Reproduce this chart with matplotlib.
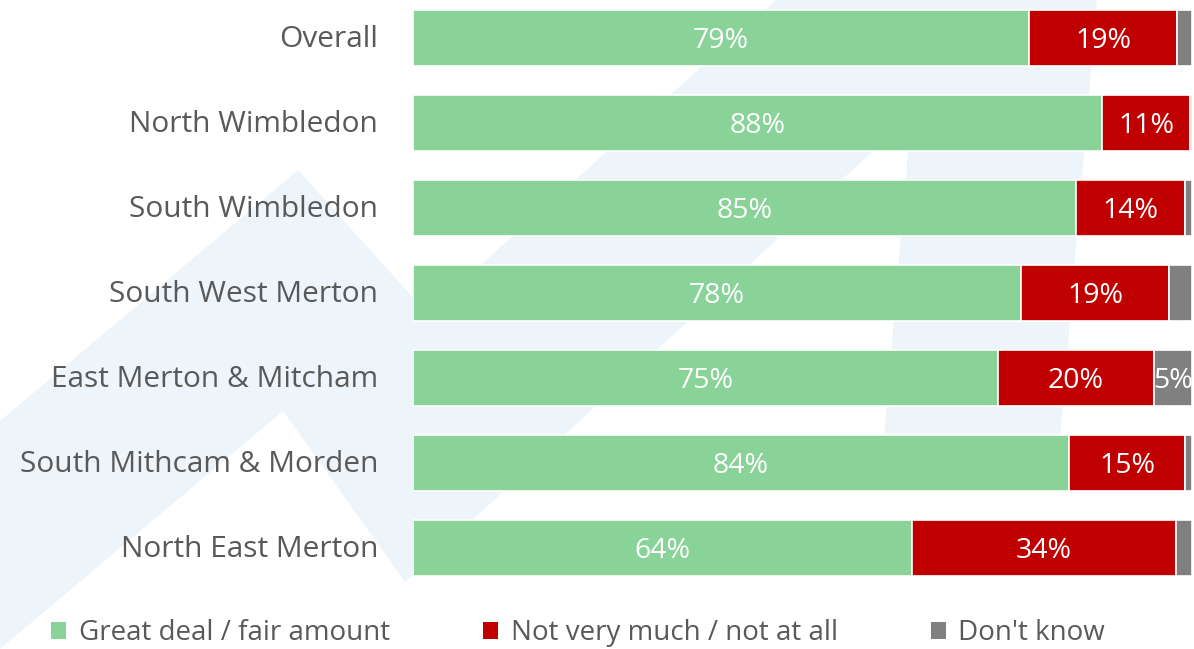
import matplotlib
matplotlib.use("Agg")
import matplotlib.pyplot as plt
from matplotlib.patches import Polygon, Patch
from matplotlib.transforms import ScaledTranslation

categories = ["Overall", "North Wimbledon", "South Wimbledon", "South West Merton",
              "East Merton & Mitcham", "South Mithcam & Morden", "North East Merton"]
great = [79.1, 88.4, 85.1, 78.0, 75.1, 84.2, 64.0]
not_much = [19.0, 11.4, 14.0, 19.1, 20.0, 14.9, 34.0]
dont_know = [1.9, 0.2, 0.9, 2.9, 4.9, 0.9, 2.0]
series_names = ["Great deal / fair amount", "Not very much / not at all", "Don't know"]
colors = ["#89D399", "#C00000", "#808080"]

W, H = 1194, 649
FONT = "Open Sans"
TXT = "#595959"

fig = plt.figure(figsize=(W / 100, H / 100), dpi=100)

# faint background watermark (decorative), in its own background axes
bg = fig.add_axes([0, 0, 1, 1], zorder=-5)
bg.set_xlim(0, W)
bg.set_ylim(H, 0)
bg.axis("off")
wm = [(0, 649), (0, 421), (298, 170), (427, 313), (776, 0), (1097, 0),
      (1058, 462), (882, 462), (911, 116), (405, 582), (283, 411)]
bg.add_patch(Polygon(wm, closed=True, facecolor="#EEF5FA", edgecolor="none"))

ax = fig.add_axes([413 / W, 1 - 590 / H, (1192 - 413) / W, 590 / H], zorder=1)
ax.set_facecolor("none")
y = list(range(len(categories)))
h = 0.66
left = [0] * len(categories)
down = ScaledTranslation(0, -0.03, fig.dpi_scale_trans)
for vals, col in zip([great, not_much, dont_know], colors):
    bars = ax.barh(y, vals, left=left, height=h, color=col, edgecolor="white", linewidth=1.2)
    for b, v, l in zip(bars, vals, left):
        if v >= 4:
            ax.text(l + v / 2, b.get_y() + b.get_height() / 2, f"{v:.0f}%",
                    ha="center", va="center", color="white", fontsize=20.5, family=FONT,
                    transform=ax.transData + down)
    left = [a + b for a, b in zip(left, vals)]

ax.set_xlim(0, 100)
ax.set_ylim(6.494, -0.447)
ax.set_yticks(y)
ax.set_yticklabels(categories, fontsize=21.5, color=TXT, family=FONT)
ax.tick_params(axis="y", length=0, pad=25)
up = ScaledTranslation(0, 0.02, fig.dpi_scale_trans)
for lbl in ax.get_yticklabels():
    lbl.set_transform(lbl.get_transform() + up)
ax.set_xticks([])
for s in ax.spines.values():
    s.set_visible(False)

handles = [Patch(facecolor=c, edgecolor="none") for c in colors]
fig.legend(handles, series_names, loc="center", bbox_to_anchor=(578 / W, 1 - 633 / H),
           ncol=3, frameon=False, prop={"family": FONT, "size": 20},
           labelcolor=TXT, handlelength=0.55, handleheight=0.55, handletextpad=0.45,
           columnspacing=3.35, borderpad=0.1)

fig.savefig("out.png", dpi=100)
